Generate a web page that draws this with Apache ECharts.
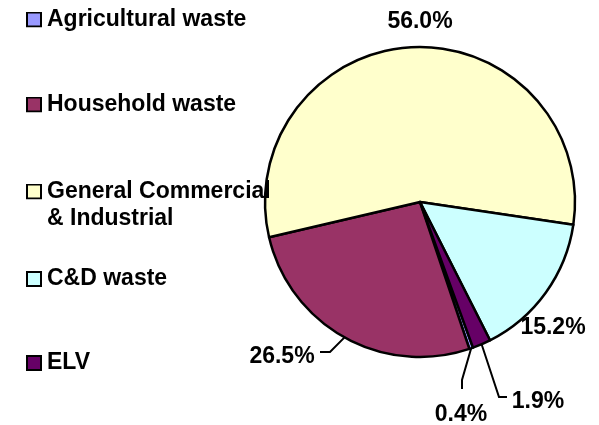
<!DOCTYPE html>
<html>
<head>
<meta charset="utf-8">
<script src="https://cdn.jsdelivr.net/npm/echarts@6/dist/echarts.min.js"></script>
<style>
  html, body { margin: 0; padding: 0; background: #ffffff; }
  #chart { width: 599px; height: 425px; }
</style>
</head>
<body>
<div id="chart"></div>
<script>
// Waste streams and their share of the total (%)
const categories = ['Agricultural waste', 'Household waste', 'General Commercial & Industrial', 'C&D waste', 'ELV'];
const shares = [0.4, 26.5, 56.0, 15.2, 1.9];
const sliceColors = ['#9999FF', '#993366', '#FFFFCC', '#CCFFFF', '#660066'];

const FONT = '"Liberation Sans", Arial, Helvetica, sans-serif';

// Where each percentage label sits, and the bends of its leader line
const labelPlacement = [
  { x: 461, y: 415, bend: [[462, 380], [462, 389]] },
  { x: 282, y: 357, bend: [[330, 352], [320, 352]] },
  { x: 420, y: 22 },
  { x: 553, y: 328 },
  { x: 538, y: 402, bend: [[499, 397], [507, 397]] }
];

// Vertical position of each legend entry
const legendTops = [6, 91, 151, 265.5, 349.5];

// Legend swatch: a filled square with a heavy black frame
function swatch(color) {
  const svg = "<svg xmlns='http://www.w3.org/2000/svg' width='16' height='16'>" +
    "<rect x='1' y='1' width='14' height='14' fill='" + color + "' stroke='#000' stroke-width='2'/></svg>";
  return 'image://data:image/svg+xml;charset=utf-8,' + encodeURIComponent(svg);
}

const chart = echarts.init(document.getElementById('chart'), null, { renderer: 'canvas' });

const legends = categories.map((name, i) => ({
  data: [name],
  orient: 'vertical',
  left: 26,
  top: legendTops[i],
  padding: 0,
  itemWidth: 16,
  itemHeight: 16,
  icon: swatch(sliceColors[i]),
  selectedMode: false,
  formatter: n => n === 'General Commercial & Industrial' ? ' \nGeneral Commercial\n& Industrial' : n,
  textStyle: { fontFamily: FONT, fontSize: 23, fontWeight: 'bold', color: '#000', lineHeight: 27 }
}));

chart.setOption({
  animation: false,
  color: sliceColors,
  legend: legends,
  series: [{
    type: 'pie',
    center: [420, 202],
    radius: 155,
    startAngle: 290,
    clockwise: true,
    avoidLabelOverlap: false,
    silent: true,
    itemStyle: { borderColor: '#000', borderWidth: 2.5 },
    label: {
      show: true,
      position: 'outside',
      formatter: p => p.value.toFixed(1) + '%',
      fontFamily: FONT,
      fontSize: 23,
      fontWeight: 'bold',
      color: '#000'
    },
    labelLine: { lineStyle: { color: '#000', width: 2 } },
    labelLayout: params => {
      const p = labelPlacement[params.dataIndex];
      const out = { x: p.x, y: p.y, align: 'center', verticalAlign: 'middle' };
      if (p.bend && params.labelLinePoints) {
        out.labelLinePoints = [params.labelLinePoints[0], p.bend[0], p.bend[1]];
      }
      return out;
    },
    data: categories.map((name, i) => ({
      name: name,
      value: shares[i],
      labelLine: { show: !!labelPlacement[i].bend }
    }))
  }]
});
</script>
</body>
</html>
